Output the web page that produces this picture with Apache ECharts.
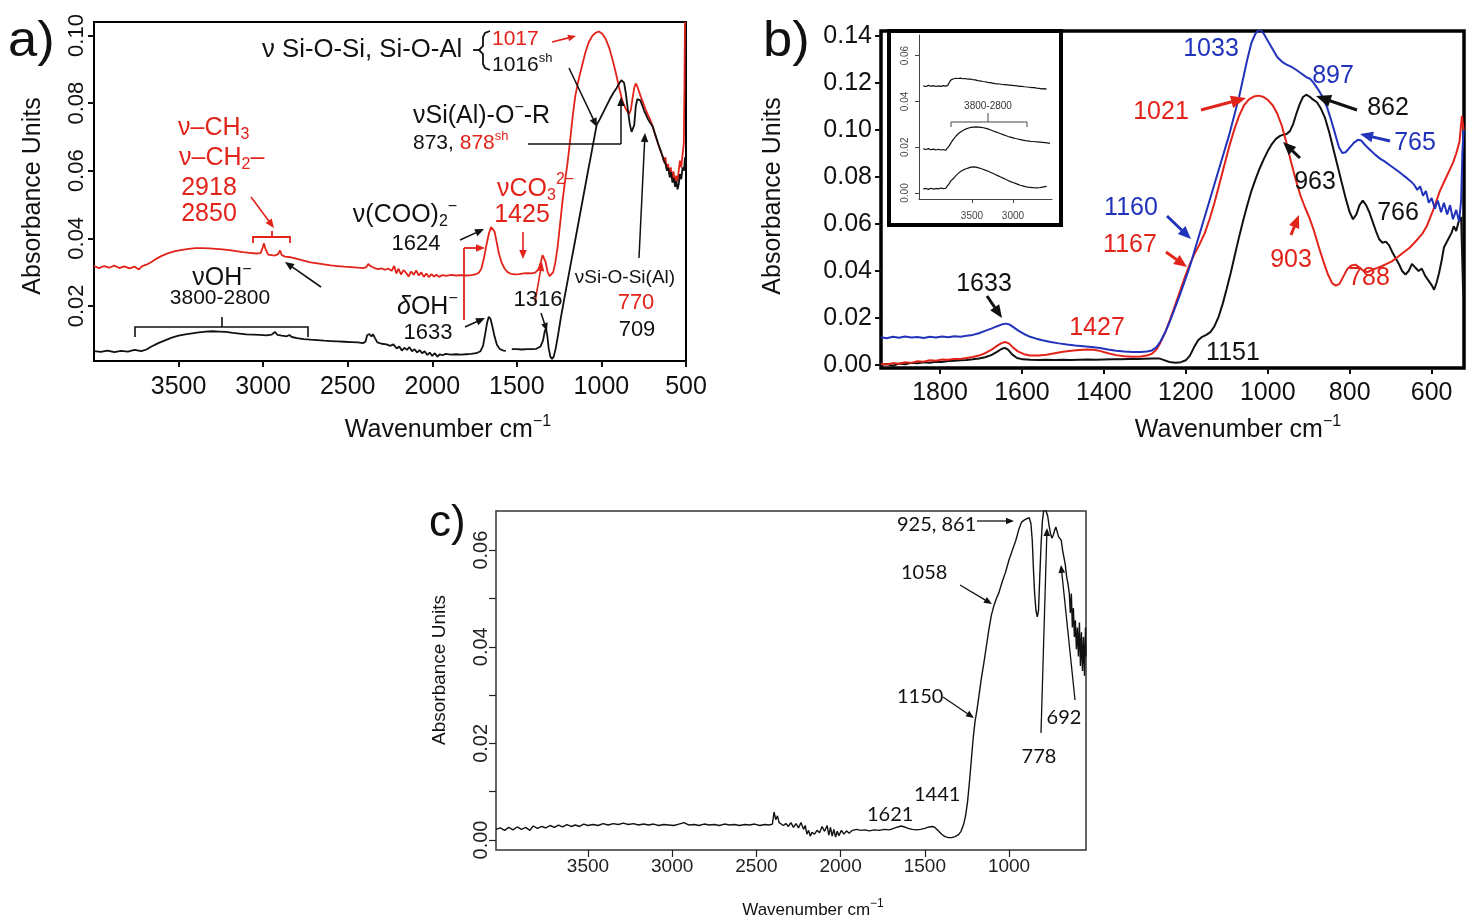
<!DOCTYPE html>
<html><head><meta charset="utf-8">
<script src="https://cdn.jsdelivr.net/npm/echarts@6/dist/echarts.min.js"></script>
<style>html,body{margin:0;padding:0;background:#fff}#c{width:1466px;height:922px}</style>
</head><body><div id="c"></div>
<script>
// ---------------- DATA ----------------
const aTicksX = [3500,3000,2500,2000,1500,1000,500];
const aTicksY = [0.02,0.04,0.06,0.08,0.10];
const bTicksX = [1800,1600,1400,1200,1000,800,600];
const bTicksY = [0,0.02,0.04,0.06,0.08,0.10,0.12,0.14];
const cTicksX = [3500,3000,2500,2000,1500,1000];
const cTicksY = [0,0.01,0.02,0.03,0.04,0.05,0.06];
const cLabelsY = [0,0.02,0.04,0.06];
const insTicksX = [3500,3000];
const insTicksY = [0,0.02,0.04,0.06];

// panel a: black spectrum (wavenumber, absorbance)
const aBlack = [[4000,0.0066],[3960,0.0064],[3920,0.0068],[3880,0.0063],[3840,0.0067],[3800,0.0065],[3760,0.0070],[3720,0.0066],[3690,0.0071],[3660,0.0080],[3620,0.0090],[3580,0.0098],[3540,0.0106],[3500,0.0112],[3460,0.0116],[3420,0.0119],[3380,0.0122],[3340,0.0124],[3300,0.0125],[3260,0.0124],[3220,0.0123],[3180,0.0120],[3140,0.0118],[3100,0.0116],[3060,0.0115],[3020,0.0114],[2980,0.0113],[2950,0.0115],[2930,0.0123],[2915,0.0114],[2890,0.0112],[2860,0.0110],[2845,0.0114],[2830,0.0108],[2800,0.0105],[2760,0.0102],[2720,0.0100],[2680,0.0099],[2640,0.0097],[2600,0.0096],[2560,0.0095],[2520,0.0094],[2480,0.0093],[2440,0.0092],[2410,0.0090],[2395,0.0094],[2385,0.0113],[2372,0.0117],[2360,0.0110],[2350,0.0116],[2338,0.0104],[2325,0.0092],[2300,0.0088],[2270,0.0086],[2250,0.0082],[2230,0.0086],[2210,0.0074],[2195,0.0080],[2180,0.0068],[2165,0.0076],[2150,0.0070],[2135,0.0078],[2120,0.0066],[2105,0.0072],[2090,0.0062],[2075,0.0069],[2060,0.0060],[2045,0.0066],[2030,0.0055],[2015,0.0062],[2000,0.0052],[1985,0.0060],[1970,0.0050],[1955,0.0057],[1940,0.0054],[1920,0.0058],[1890,0.0056],[1860,0.0057],[1830,0.0056],[1800,0.0057],[1770,0.0058],[1740,0.0060],[1715,0.0066],[1700,0.0082],[1688,0.0115],[1676,0.0150],[1666,0.0168],[1656,0.0162],[1645,0.0140],[1632,0.0110],[1618,0.0085],[1600,0.0072],[1580,0.0068],[1565,0.0067],[1550,'-'],[1530,0.0072],[1500,0.0072],[1470,0.0071],[1440,0.0072],[1410,0.0072],[1385,0.0073],[1360,0.0080],[1345,0.0098],[1335,0.0125],[1328,0.0134],[1320,0.0112],[1312,0.0075],[1302,0.0050],[1292,0.0043],[1282,0.0050],[1270,0.0075],[1255,0.0118],[1240,0.0165],[1220,0.0220],[1200,0.0274],[1180,0.0328],[1160,0.0381],[1140,0.0435],[1120,0.0489],[1100,0.0543],[1080,0.0597],[1060,0.0650],[1040,0.0704],[1028,0.0736],[1010,0.0752],[990,0.0772],[970,0.0792],[950,0.0812],[930,0.0830],[910,0.0845],[895,0.0858],[882,0.0868],[875,0.0871],[866,0.0860],[856,0.0830],[845,0.0785],[833,0.0740],[822,0.0715],[814,0.0711],[806,0.0735],[797,0.0790],[788,0.0812],[779,0.0815],[770,0.0808],[760,0.0795],[748,0.0778],[736,0.0765],[724,0.0752],[712,0.0742],[704,0.0745],[696,0.0730],[685,0.0712],[674,0.0695],[662,0.0676],[650,0.0660],[640,0.0645],[630,0.0630],[620,0.0618],[612,0.0600],[604,0.0608],[596,0.0580],[588,0.0596],[580,0.0565],[572,0.0578],[564,0.0552],[557,0.0570],[550,0.0545],[543,0.0560],[536,0.0590],[528,0.0575],[520,0.0610],[512,0.0600],[506,0.0640],[503,0.0620]];

// panel a: red spectrum
const aRed = [[4000,0.0318],[3970,0.0312],[3940,0.0318],[3910,0.0313],[3880,0.0319],[3850,0.0312],[3820,0.0317],[3790,0.0311],[3760,0.0316],[3735,0.0308],[3715,0.0318],[3690,0.0322],[3660,0.0330],[3630,0.0340],[3600,0.0348],[3560,0.0356],[3520,0.0362],[3480,0.0366],[3440,0.0369],[3400,0.0371],[3360,0.0371],[3320,0.0370],[3280,0.0369],[3240,0.0367],[3200,0.0365],[3160,0.0362],[3120,0.0359],[3080,0.0357],[3040,0.0355],[3015,0.0356],[3003,0.0372],[2995,0.0385],[2986,0.0368],[2970,0.0352],[2950,0.0350],[2930,0.0349],[2912,0.0353],[2900,0.0364],[2890,0.0350],[2870,0.0346],[2840,0.0344],[2800,0.0339],[2760,0.0334],[2720,0.0329],[2680,0.0326],[2640,0.0323],[2600,0.0320],[2560,0.0318],[2520,0.0316],[2480,0.0315],[2440,0.0313],[2410,0.0312],[2390,0.0315],[2378,0.0324],[2366,0.0318],[2355,0.0323],[2342,0.0312],[2320,0.0309],[2300,0.0311],[2280,0.0307],[2260,0.0310],[2240,0.0304],[2225,0.0318],[2212,0.0296],[2200,0.0310],[2185,0.0293],[2170,0.0306],[2155,0.0298],[2140,0.0287],[2125,0.0302],[2110,0.0292],[2095,0.0305],[2080,0.0290],[2065,0.0299],[2050,0.0286],[2035,0.0296],[2020,0.0285],[2005,0.0294],[1990,0.0287],[1975,0.0292],[1960,0.0286],[1940,0.0291],[1915,0.0289],[1890,0.0292],[1860,0.0290],[1830,0.0291],[1800,0.0290],[1770,0.0291],[1745,0.0293],[1725,0.0298],[1710,0.0310],[1695,0.0340],[1680,0.0380],[1665,0.0415],[1652,0.0433],[1642,0.0436],[1632,0.0420],[1620,0.0390],[1606,0.0355],[1590,0.0328],[1572,0.0310],[1555,0.0300],[1535,0.0295],[1510,0.0293],[1485,0.0294],[1460,0.0296],[1435,0.0297],[1410,0.0296],[1390,0.0299],[1372,0.0308],[1358,0.0330],[1348,0.0350],[1340,0.0352],[1330,0.0330],[1318,0.0300],[1306,0.0288],[1296,0.0290],[1285,0.0300],[1272,0.0330],[1259,0.0375],[1245,0.0440],[1230,0.0510],[1215,0.0570],[1200,0.0625],[1185,0.0690],[1170,0.0760],[1155,0.0820],[1137,0.0865],[1115,0.0910],[1095,0.0950],[1075,0.0980],[1055,0.0998],[1035,0.1008],[1015,0.1012],[995,0.1005],[975,0.0990],[955,0.0965],[935,0.0930],[915,0.0890],[895,0.0845],[875,0.0805],[858,0.0785],[846,0.0775],[836,0.0768],[826,0.0780],[816,0.0815],[806,0.0845],[798,0.0858],[790,0.0852],[780,0.0838],[768,0.0820],[755,0.0803],[742,0.0785],[728,0.0768],[715,0.0755],[702,0.0738],[690,0.0718],[678,0.0700],[665,0.0680],[652,0.0660],[640,0.0645],[630,0.0625],[622,0.0640],[614,0.0605],[606,0.0620],[598,0.0590],[590,0.0610],[582,0.0575],[574,0.0598],[566,0.0565],[558,0.0585],[550,0.0568],[543,0.0600],[536,0.0630],[528,0.0610],[520,0.0650],[513,0.0680],[509,0.0850],[506,0.1040]];

// panel b: blue, red, black spectra
const bBlue = [[1944,0.0118],[1930,0.0114],[1915,0.0120],[1900,0.0116],[1885,0.0121],[1870,0.0117],[1855,0.0119],[1840,0.0115],[1825,0.0120],[1810,0.0117],[1795,0.0121],[1780,0.0118],[1765,0.0122],[1750,0.0120],[1735,0.0124],[1720,0.0128],[1705,0.0135],[1690,0.0145],[1675,0.0155],[1662,0.0164],[1650,0.0172],[1640,0.0176],[1630,0.0172],[1620,0.0160],[1608,0.0145],[1595,0.0132],[1580,0.0120],[1565,0.0112],[1550,0.0105],[1530,0.0098],[1510,0.0092],[1490,0.0087],[1470,0.0083],[1450,0.0080],[1430,0.0077],[1410,0.0072],[1390,0.0066],[1370,0.0061],[1350,0.0057],[1330,0.0055],[1310,0.0055],[1295,0.0057],[1283,0.0062],[1272,0.0075],[1262,0.0100],[1250,0.0140],[1238,0.0190],[1226,0.0245],[1214,0.0300],[1202,0.0360],[1190,0.0420],[1178,0.0490],[1166,0.0560],[1154,0.0630],[1142,0.0700],[1130,0.0770],[1118,0.0840],[1106,0.0910],[1094,0.0980],[1082,0.1060],[1070,0.1140],[1060,0.1220],[1050,0.1300],[1040,0.1370],[1030,0.1410],[1020,0.1430],[1010,0.1410],[1000,0.1380],[990,0.1350],[977,0.1310],[965,0.1290],[954,0.1278],[942,0.1268],[930,0.1255],[918,0.1240],[906,0.1225],[897,0.1218],[888,0.1200],[878,0.1175],[866,0.1140],[855,0.1095],[845,0.1040],[835,0.0980],[826,0.0925],[818,0.0902],[810,0.0905],[800,0.0925],[790,0.0945],[780,0.0958],[772,0.0955],[762,0.0935],[750,0.0915],[738,0.0895],[726,0.0878],[714,0.0865],[702,0.0850],[690,0.0835],[680,0.0822],[670,0.0808],[660,0.0795],[650,0.0780],[642,0.0765],[635,0.0745],[628,0.0760],[621,0.0720],[614,0.0740],[607,0.0690],[600,0.0710],[592,0.0665],[585,0.0700],[577,0.0650],[570,0.0690],[562,0.0640],[555,0.0680],[548,0.0620],[540,0.0660],[533,0.0610],[528,0.0700],[525,0.0900],[522,0.1000]];
const bRed = [[1944,0.0004],[1930,0.0002],[1915,0.0008],[1900,0.0005],[1885,0.0012],[1870,0.0009],[1855,0.0016],[1840,0.0014],[1825,0.0020],[1810,0.0018],[1795,0.0023],[1780,0.0022],[1765,0.0026],[1750,0.0026],[1735,0.0030],[1720,0.0034],[1705,0.0040],[1690,0.0050],[1675,0.0064],[1662,0.0080],[1650,0.0093],[1641,0.0098],[1632,0.0092],[1622,0.0075],[1610,0.0058],[1595,0.0046],[1580,0.0040],[1560,0.0040],[1540,0.0044],[1520,0.0050],[1500,0.0056],[1480,0.0061],[1460,0.0064],[1440,0.0066],[1425,0.0065],[1410,0.0060],[1390,0.0050],[1370,0.0042],[1350,0.0037],[1330,0.0035],[1310,0.0036],[1295,0.0040],[1283,0.0048],[1272,0.0065],[1262,0.0095],[1250,0.0140],[1238,0.0195],[1226,0.0255],[1214,0.0315],[1202,0.0375],[1190,0.0430],[1178,0.0475],[1166,0.0515],[1154,0.0560],[1142,0.0620],[1130,0.0690],[1118,0.0770],[1106,0.0850],[1094,0.0930],[1082,0.1000],[1070,0.1060],[1058,0.1105],[1046,0.1130],[1034,0.1142],[1022,0.1146],[1010,0.1140],[1000,0.1128],[988,0.1105],[977,0.1070],[966,0.1020],[955,0.0950],[944,0.0870],[932,0.0790],[920,0.0720],[909,0.0670],[898,0.0625],[887,0.0570],[876,0.0505],[864,0.0440],[853,0.0385],[843,0.0348],[834,0.0338],[825,0.0345],[816,0.0375],[806,0.0408],[796,0.0423],[786,0.0427],[776,0.0415],[766,0.0400],[756,0.0395],[745,0.0405],[734,0.0412],[722,0.0420],[710,0.0430],[698,0.0440],[686,0.0455],[675,0.0470],[664,0.0485],[653,0.0500],[642,0.0520],[632,0.0540],[622,0.0560],[612,0.0590],[604,0.0625],[596,0.0660],[588,0.0700],[580,0.0740],[572,0.0770],[564,0.0800],[556,0.0830],[548,0.0860],[540,0.0900],[532,0.0950],[526,0.1060],[522,0.1000]];
const bBlack = [[1944,0.0000],[1930,0.0004],[1915,-0.0003],[1900,0.0006],[1885,0.0003],[1870,0.0009],[1855,0.0007],[1840,0.0012],[1825,0.0010],[1810,0.0014],[1795,0.0013],[1780,0.0017],[1765,0.0018],[1750,0.0020],[1735,0.0021],[1720,0.0024],[1705,0.0028],[1690,0.0033],[1675,0.0042],[1662,0.0055],[1650,0.0068],[1642,0.0073],[1634,0.0065],[1624,0.0045],[1612,0.0030],[1598,0.0024],[1580,0.0022],[1560,0.0021],[1540,0.0022],[1520,0.0021],[1500,0.0022],[1480,0.0021],[1460,0.0022],[1440,0.0023],[1420,0.0022],[1400,0.0023],[1380,0.0024],[1360,0.0024],[1340,0.0025],[1320,0.0026],[1300,0.0027],[1280,0.0028],[1265,0.0028],[1255,0.0022],[1240,0.0013],[1225,0.0010],[1212,0.0012],[1200,0.0020],[1190,0.0040],[1180,0.0075],[1170,0.0105],[1160,0.0120],[1150,0.0128],[1140,0.0140],[1130,0.0165],[1120,0.0205],[1110,0.0260],[1100,0.0325],[1090,0.0395],[1080,0.0470],[1070,0.0545],[1060,0.0615],[1050,0.0680],[1040,0.0740],[1030,0.0790],[1020,0.0835],[1010,0.0875],[1000,0.0910],[990,0.0940],[980,0.0962],[970,0.0975],[962,0.0980],[954,0.0983],[946,0.0995],[938,0.1025],[930,0.1070],[922,0.1110],[914,0.1140],[906,0.1150],[898,0.1142],[890,0.1130],[880,0.1118],[870,0.1090],[860,0.1050],[850,0.0990],[840,0.0920],[830,0.0850],[820,0.0780],[810,0.0710],[800,0.0650],[792,0.0620],[784,0.0640],[776,0.0680],[768,0.0700],[760,0.0680],[752,0.0650],[744,0.0610],[736,0.0570],[728,0.0535],[720,0.0520],[712,0.0525],[704,0.0510],[696,0.0480],[688,0.0455],[680,0.0430],[672,0.0400],[664,0.0385],[656,0.0400],[648,0.0430],[640,0.0415],[632,0.0400],[624,0.0410],[616,0.0380],[608,0.0360],[600,0.0340],[594,0.0320],[588,0.0350],[582,0.0390],[576,0.0440],[570,0.0500],[564,0.0520],[558,0.0540],[552,0.0560],[546,0.0590],[540,0.0570],[534,0.0610],[528,0.0630],[523,0.0300]];

// panel b inset: three spectra 4100-2550 cm-1
const insTop = [[4094,0.0468],[4060,0.0465],[4030,0.0470],[4000,0.0466],[3970,0.0469],[3940,0.0465],[3910,0.0468],[3880,0.0466],[3850,0.0469],[3820,0.0467],[3795,0.0470],[3775,0.0484],[3755,0.0494],[3730,0.0498],[3700,0.0501],[3670,0.0500],[3640,0.0502],[3610,0.0499],[3580,0.0500],[3550,0.0497],[3520,0.0498],[3490,0.0495],[3460,0.0494],[3430,0.0491],[3400,0.0490],[3370,0.0487],[3340,0.0486],[3310,0.0483],[3280,0.0482],[3250,0.0480],[3220,0.0478],[3190,0.0477],[3160,0.0476],[3130,0.0474],[3100,0.0473],[3070,0.0472],[3040,0.0471],[3010,0.0470],[2980,0.0469],[2950,0.0468],[2920,0.0466],[2890,0.0466],[2860,0.0464],[2830,0.0463],[2800,0.0462],[2770,0.0460],[2740,0.0460],[2710,0.0458],[2680,0.0457],[2650,0.0455],[2620,0.0456],[2590,0.0454]];
const insMid = [[4094,0.0193],[4060,0.0190],[4030,0.0194],[4000,0.0189],[3970,0.0192],[3940,0.0188],[3910,0.0191],[3880,0.0188],[3850,0.0190],[3820,0.0187],[3800,0.0191],[3780,0.0205],[3760,0.0217],[3740,0.0228],[3715,0.0240],[3690,0.0251],[3660,0.0261],[3630,0.0269],[3600,0.0275],[3570,0.0280],[3540,0.0284],[3510,0.0287],[3480,0.0288],[3450,0.0289],[3420,0.0288],[3390,0.0287],[3360,0.0285],[3330,0.0282],[3300,0.0279],[3270,0.0275],[3240,0.0271],[3210,0.0267],[3180,0.0263],[3150,0.0259],[3120,0.0255],[3090,0.0251],[3060,0.0247],[3030,0.0244],[3000,0.0241],[2970,0.0238],[2940,0.0236],[2910,0.0233],[2880,0.0231],[2850,0.0229],[2820,0.0228],[2790,0.0226],[2760,0.0225],[2730,0.0224],[2700,0.0223],[2670,0.0222],[2640,0.0221],[2610,0.0220],[2580,0.0219],[2549,0.0217]];
const insBot = [[4094,0.0018],[4060,0.0020],[4030,0.0016],[4000,0.0021],[3970,0.0017],[3940,0.0020],[3910,0.0018],[3880,0.0022],[3850,0.0019],[3820,0.0021],[3800,0.0025],[3780,0.0040],[3760,0.0052],[3740,0.0060],[3715,0.0068],[3690,0.0078],[3660,0.0088],[3630,0.0096],[3600,0.0102],[3570,0.0106],[3540,0.0110],[3510,0.0113],[3480,0.0114],[3450,0.0113],[3420,0.0110],[3390,0.0107],[3360,0.0103],[3330,0.0099],[3300,0.0095],[3270,0.0090],[3240,0.0085],[3210,0.0080],[3180,0.0075],[3150,0.0070],[3120,0.0065],[3090,0.0060],[3060,0.0055],[3030,0.0050],[3000,0.0046],[2970,0.0042],[2940,0.0038],[2910,0.0034],[2880,0.0031],[2850,0.0028],[2820,0.0026],[2790,0.0025],[2760,0.0024],[2730,0.0023],[2700,0.0023],[2670,0.0024],[2640,0.0026],[2610,0.0028],[2590,0.0029]];

// panel c: black spectrum
const cBlack = [[4046,0.0022],[4020,0.0025],[3995,0.0020],[3970,0.0026],[3945,0.0021],[3920,0.0027],[3895,0.0022],[3870,0.0026],[3845,0.0020],[3825,0.0029],[3800,0.0024],[3775,0.0028],[3750,0.0025],[3725,0.0030],[3700,0.0026],[3675,0.0031],[3650,0.0027],[3625,0.0032],[3600,0.0028],[3575,0.0031],[3550,0.0028],[3525,0.0033],[3500,0.0030],[3470,0.0032],[3440,0.0030],[3410,0.0034],[3380,0.0031],[3350,0.0034],[3320,0.0032],[3290,0.0035],[3260,0.0032],[3230,0.0034],[3200,0.0031],[3170,0.0033],[3140,0.0031],[3110,0.0033],[3080,0.0030],[3050,0.0032],[3020,0.0031],[2990,0.0030],[2960,0.0033],[2930,0.0036],[2900,0.0031],[2870,0.0032],[2840,0.0030],[2810,0.0033],[2780,0.0031],[2750,0.0032],[2720,0.0030],[2690,0.0033],[2660,0.0031],[2630,0.0032],[2600,0.0030],[2570,0.0032],[2540,0.0031],[2510,0.0033],[2480,0.0030],[2450,0.0032],[2425,0.0031],[2405,0.0033],[2395,0.0058],[2385,0.0042],[2375,0.0050],[2365,0.0036],[2355,0.0040],[2340,0.0030],[2325,0.0034],[2310,0.0028],[2295,0.0036],[2280,0.0026],[2265,0.0034],[2250,0.0025],[2235,0.0036],[2220,0.0022],[2210,0.0030],[2200,0.0012],[2190,0.0020],[2180,0.0008],[2170,0.0016],[2155,0.0012],[2140,0.0020],[2125,0.0015],[2110,0.0028],[2095,0.0018],[2080,0.0030],[2070,0.0010],[2060,0.0026],[2050,0.0008],[2040,0.0022],[2030,0.0006],[2020,0.0018],[2010,0.0009],[1995,0.0020],[1980,0.0012],[1965,0.0019],[1950,0.0014],[1930,0.0020],[1905,0.0022],[1880,0.0020],[1855,0.0021],[1830,0.0019],[1800,0.0021],[1770,0.0020],[1740,0.0022],[1710,0.0021],[1685,0.0024],[1660,0.0027],[1640,0.0029],[1620,0.0027],[1600,0.0024],[1575,0.0022],[1550,0.0021],[1525,0.0022],[1500,0.0024],[1475,0.0027],[1455,0.0028],[1440,0.0026],[1420,0.0019],[1400,0.0012],[1380,0.0007],[1360,0.0005],[1340,0.0005],[1320,0.0007],[1300,0.0011],[1285,0.0018],[1270,0.0032],[1258,0.0050],[1246,0.0080],[1235,0.0120],[1224,0.0165],[1213,0.0210],[1202,0.0245],[1190,0.0270],[1178,0.0300],[1165,0.0333],[1150,0.0365],[1135,0.0400],[1120,0.0435],[1105,0.0465],[1090,0.0485],[1075,0.0500],[1060,0.0512],[1040,0.0535],[1020,0.0555],[1000,0.0580],[980,0.0600],[960,0.0620],[940,0.0645],[925,0.0658],[910,0.0662],[895,0.0665],[880,0.0667],[870,0.0655],[862,0.0620],[855,0.0560],[848,0.0510],[840,0.0475],[832,0.0462],[825,0.0475],[818,0.0540],[810,0.0610],[802,0.0660],[795,0.0680],[787,0.0688],[778,0.0685],[770,0.0670],[762,0.0650],[754,0.0635],[746,0.0625],[738,0.0630],[730,0.0640],[722,0.0648],[714,0.0645],[706,0.0628],[698,0.0625],[690,0.0620],[682,0.0600],[674,0.0585],[666,0.0570],[658,0.0545],[650,0.0530],[642,0.0510],[636,0.0470],[630,0.0510],[624,0.0440],[618,0.0480],[612,0.0420],[606,0.0455],[600,0.0395],[594,0.0440],[588,0.0380],[582,0.0450],[576,0.0360],[570,0.0430],[564,0.0350],[558,0.0420],[552,0.0340],[546,0.0440],[543,0.0380]];

// ---------------- STYLE / HELPERS ----------------
const K='#111111', R='#e2231a', B='#2233bb';
const F='"Liberation Sans", Arial, Helvetica, sans-serif';
const FL='Lato, "Liberation Sans", sans-serif';
const mctx=document.createElement('canvas').getContext('2d');
function tw(s,fs,fam,st){mctx.font=(st||'normal')+' '+fs+'px '+fam;return mctx.measureText(s).width;}
const G=[];
function T(x,y,s,o){o=o||{};G.push({type:'text',x:x,y:y,rotation:o.rot||0,scaleX:o.sx||1,z:100,silent:true,
  style:{text:s,fill:o.c||K,fontSize:o.fs||20,fontFamily:o.fam||F,fontStyle:o.st||'normal',align:o.al||'left',verticalAlign:'middle'}});}
function RT(x,y,parts,o){
  const sx=o.sx||1, fam=o.fam||F;
  const ws=parts.map(p=>tw(p[0],(p[1]&&p[1].fs)||o.fs,fam,p[1]&&p[1].st)*sx);
  const tot=ws.reduce((a,b)=>a+b,0);
  let x0=o.al==='center'?x-tot/2:(o.al==='right'?x-tot:x);
  parts.forEach((p,i)=>{const q=p[1]||{};T(x0,y+(q.dy||0),p[0],{c:q.c||o.c,fs:q.fs||o.fs,st:q.st,fam:fam,sx:sx});x0+=ws[i];});
}
function A(x1,y1,x2,y2,c,w,hs){
  hs=hs||9; const ang=Math.atan2(y2-y1,x2-x1), hw=hs*0.42;
  const bx=x2-hs*Math.cos(ang), by=y2-hs*Math.sin(ang);
  G.push({type:'line',z:100,silent:true,shape:{x1:x1,y1:y1,x2:bx+0.3*Math.cos(ang),y2:by+0.3*Math.sin(ang)},style:{stroke:c,lineWidth:w}});
  G.push({type:'polygon',z:100,silent:true,shape:{points:[[x2,y2],[bx+hw*Math.sin(ang),by-hw*Math.cos(ang)],[bx-hw*Math.sin(ang),by+hw*Math.cos(ang)]]},style:{fill:c}});
}
function P(pts,c,w){G.push({type:'polyline',z:100,silent:true,shape:{points:pts},style:{stroke:c,lineWidth:w,fill:null}});}

// ---------------- ANNOTATIONS ----------------
// panel a
T(8,42,'a)',{fs:50,sx:1.05});
T(33,196,'Absorbance Units',{fs:25,al:'center',rot:Math.PI/2});
RT(448,430,[['Wavenumber cm',{}],['−1',{fs:16,dy:-8}]],{fs:25,al:'center'});
RT(262,50,[['ν Si-O-Si, Si-O-Al',{}]],{fs:25,sx:1.03});
P([[490,31],[485,33],[483,37],[483,46],[479,50],[483,54],[483,64],[485,68],[490,70]],K,1.8);
P([[473,50],[479,50]],K,1.8);
T(492,39,'1017',{fs:21,c:R});
A(552,42,576,36,R,1.8,8);
RT(492,65,[['1016',{}],['sh',{fs:13,dy:-7}]],{fs:21});
A(569,68,597,127,K,1.5,9);
RT(413,116,[['νSi(Al)-O',{}],['−',{fs:16,dy:-8}],['-R',{}]],{fs:25});
RT(413,143,[['873, ',{}],['878',{c:R}],['sh',{c:R,fs:13,dy:-7}]],{fs:21});
P([[528,144],[621,144]],K,1.5);
A(621,144,621,97,K,1.5,9);
RT(178,128,[['ν–CH',{}],['3',{fs:16,dy:7}]],{fs:25,c:R});
RT(179,158,[['ν–CH',{}],['2',{fs:16,dy:7}],['–',{}]],{fs:25,c:R});
T(209,188,'2918',{fs:25,c:R,al:'center'});
T(209,214,'2850',{fs:25,c:R,al:'center'});
A(251,197,274,228,R,1.6,9);
P([[253,243],[253,237],[290,237],[290,243]],R,1.8);
P([[272,237],[272,231]],R,1.8);
A(321,287,285,262,K,1.6,9);
RT(222,278,[['νOH',{}],['−',{fs:16,dy:-8}]],{fs:25,al:'center'});
T(220,298,'3800-2800',{fs:21,al:'center'});
P([[135,337],[135,327],[308,327],[308,337]],K,1.6);
P([[222,327],[222,317]],K,1.6);
RT(405,215,[['ν(COO)',{}],['2',{fs:16,dy:7}],['−',{fs:16,dy:-8}]],{fs:25,al:'center'});
T(416,244,'1624',{fs:22,al:'center'});
A(460,240,484,229,K,1.6,9);
P([[464,320],[464,248]],R,1.8);
A(464,248,485,248,R,1.8,9);
RT(397,307,[['δ',{st:'italic'}],['OH',{}],['−',{fs:16,dy:-8}]],{fs:25});
T(428,333,'1633',{fs:22,al:'center'});
A(465,327,485,318,K,1.6,9);
RT(497,189,[['νCO',{}],['3',{fs:16,dy:7}],['2−',{fs:16,dy:-9}]],{fs:25,c:R});
T(522,215,'1425',{fs:25,c:R,al:'center'});
A(523,232,523,259,R,1.6,9);
A(535,302,542,262,R,1.6,9);
T(538,300,'1316',{fs:22,al:'center'});
A(541,313,547,331,K,1.5,8);
T(625,278,'νSi-O-Si(Al)',{fs:19,al:'center'});
T(636,303,'770',{fs:22,c:R,al:'center'});
T(637,330,'709',{fs:22,al:'center'});
A(639,258,645,133,K,1.5,9);

// panel b
T(763,42,'b)',{fs:50,sx:1.05});
T(773,196,'Absorbance Units',{fs:25,al:'center',rot:Math.PI/2});
RT(1238,430,[['Wavenumber cm',{}],['−1',{fs:16,dy:-8}]],{fs:25,al:'center'});
T(1211,49,'1033',{fs:25,c:B,al:'center'});
T(1333,76,'897',{fs:25,c:B,al:'center'});
T(1161,112,'1021',{fs:25,c:R,al:'center'});
A(1201,110,1246,98,R,3,15);
T(1388,108,'862',{fs:25,al:'center'});
A(1357,110,1316,96,K,3,15);
T(1415,143,'765',{fs:25,c:B,al:'center'});
A(1390,141,1360,134,B,3,13);
T(1315,182,'963',{fs:25,al:'center'});
A(1300,158,1283,142,K,3,13);
T(1398,213,'766',{fs:25,al:'center'});
T(1131,208,'1160',{fs:25,c:B,al:'center'});
A(1167,216,1191,239,B,3,13);
T(1130,245,'1167',{fs:25,c:R,al:'center'});
A(1166,252,1187,267,R,3,13);
T(1291,260,'903',{fs:25,c:R,al:'center'});
A(1291,235,1299,215,R,3,13);
T(1369,278,'788',{fs:25,c:R,al:'center'});
T(984,284,'1633',{fs:25,al:'center'});
A(987,296,1002,318,K,3,13);
T(1097,328,'1427',{fs:25,c:R,al:'center'});
T(1233,353,'1151',{fs:25,al:'center'});
// inset frame and bracket
G.push({type:'rect',z:100,silent:true,shape:{x:889,y:31,width:172,height:194},style:{fill:'transparent',stroke:'#000',lineWidth:4}});
P([[951,127],[951,122],[1027,122],[1027,127]],'#444',1);
P([[988,122],[988,113]],'#444',1);
T(988,106,'3800-2800',{fs:10,c:'#333',al:'center'});

// panel c
T(429,524,'c)',{fs:44});
T(440,670,'Absorbance Units',{fs:19,al:'center',rot:Math.PI/2});
RT(813,910,[['Wavenumber cm',{}],['−1',{fs:12,dy:-6}]],{fs:17,al:'center'});
T(897,525,'925, 861',{fs:20,fam:FL});
A(977,521,1014,521,K,1.3,8);
T(901,573,'1058',{fs:20,fam:FL});
A(960,585,992,604,K,1.3,8);
T(897,697,'1150',{fs:20,fam:FL});
A(943,697,974,718,K,1.3,8);
T(914,795,'1441',{fs:20,fam:FL});
T(867,815,'1621',{fs:20,fam:FL});
T(1039,757,'778',{fs:20,fam:FL,al:'center'});
A(1041,733,1047,528,K,1.3,8);
T(1064,718,'692',{fs:20,fam:FL,al:'center'});
A(1075,700,1061,565,K,1.3,8);

// ---------------- AXES ----------------
function xA(gi,min,max,ticks,fs,margin,col,tkw,tkl,show){return {type:'value',gridIndex:gi,inverse:true,min:min,max:max,
  splitLine:{show:false},axisLine:{show:!!show,onZero:false,lineStyle:{color:col,width:1}},
  axisTick:{show:true,length:tkl,customValues:ticks,lineStyle:{color:col,width:tkw}},
  axisLabel:{customValues:ticks,fontSize:fs,fontFamily:F,color:col,margin:margin,formatter:v=>String(Math.round(v))}};}
function yA(gi,min,max,ticks,labels,fs,margin,col,tkw,tkl,rot,show){return {type:'value',gridIndex:gi,min:min,max:max,
  splitLine:{show:false},axisLine:{show:!!show,onZero:false,lineStyle:{color:col,width:1}},
  axisTick:{show:true,length:tkl,customValues:ticks,lineStyle:{color:col,width:tkw}},
  axisLabel:{customValues:labels,fontSize:fs,fontFamily:F,color:col,margin:margin,rotate:rot,formatter:v=>v.toFixed(2)}};}

function S(gi,data,color,w){return {type:'line',xAxisIndex:gi,yAxisIndex:gi,data:data,symbol:'none',showSymbol:false,
  lineStyle:{color:color,width:w},itemStyle:{color:color},clip:true,silent:true};}

const option={
  animation:false,
  backgroundColor:'#ffffff',
  grid:[
    {left:94,top:22,width:592,height:339,show:true,borderColor:'#000',borderWidth:2,backgroundColor:'transparent'},
    {left:881,top:31,width:583,height:337,show:true,borderColor:'#000',borderWidth:3.5,backgroundColor:'transparent'},
    {left:496,top:511,width:590,height:339,show:true,borderColor:'#333',borderWidth:1.5,backgroundColor:'transparent'},
    {left:919,top:35,width:133,height:164,show:false}
  ],
  xAxis:[
    xA(0,500,4000,aTicksX,25,14,'#111',2,6),
    xA(1,521,1944,bTicksX,25,13,'#111',2,6),
    xA(2,543,4046,cTicksX,19,7,'#222',1.2,7),
    xA(3,2524,4146,insTicksX,10,12,'#444',1,4,true)
  ],
  yAxis:[
    yA(0,0.0037,0.104,aTicksY,aTicksY,22,6,'#111',2,6,90),
    yA(1,-0.00128,0.1421,bTicksY,bTicksY,25,9,'#111',2,6,0),
    yA(2,-0.00207,0.0681,cTicksY,cLabelsY,20,5,'#222',1.2,7,90),
    yA(3,-0.0026,0.069,insTicksY,insTicksY,10,9,'#444',1,4,90,true)
  ],
  series:[
    S(0,aRed,R,1.8), S(0,aBlack,K,1.8),
    S(1,bBlack,K,2), S(1,bRed,R,2), S(1,bBlue,B,2),
    S(2,cBlack,K,1.4),
    S(3,insTop,K,1.2), S(3,insMid,K,1.2), S(3,insBot,K,1.2)
  ],
  graphic:{elements:G}
};
const chart=echarts.init(document.getElementById('c'),null,{renderer:'canvas',width:1466,height:922});
chart.setOption(option);
</script></body></html>
